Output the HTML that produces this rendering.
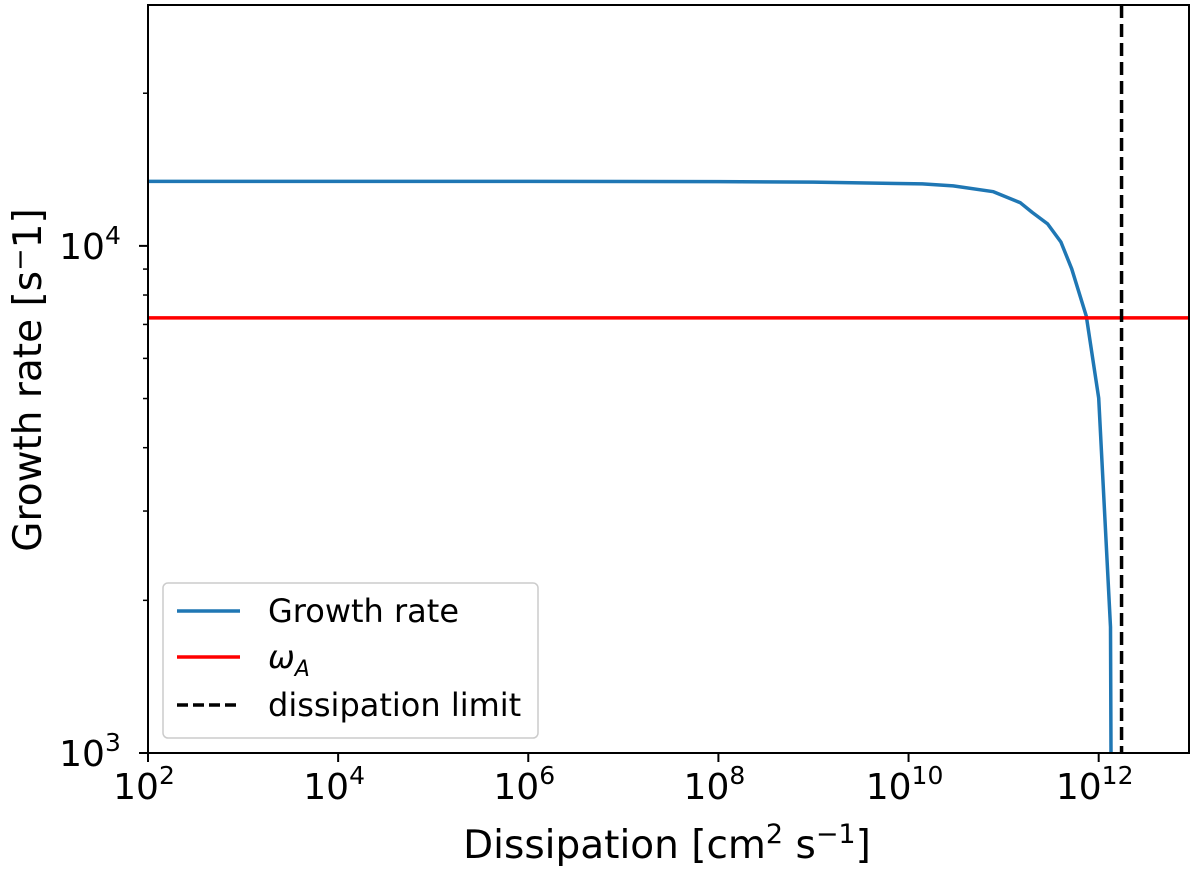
<!DOCTYPE html>
<html><head><meta charset="utf-8"><style>
body{margin:0;background:#fff;}
svg text{font-family:"DejaVu Sans","Liberation Sans",sans-serif;fill:#000;}
</style></head><body>
<svg id="chart" width="1200" height="873">
</svg>
<script>
const xDomainExp = [2, 12.95];
const yDomainExp = [3, 4.475];
const dissipation = [1e2, 1e6, 1e8, 1e9, 1.4e10, 2.95e10, 7.8e10, 1.5e11, 2.0e11, 2.9e11, 4.0e11, 5.2e11, 7.4e11, 1.0e12, 1.33e12, 1.35e12];
const growthRate = [13400, 13400, 13390, 13360, 13250, 13130, 12790, 12160, 11640, 11050, 10180, 9010, 7270, 5010, 1772, 900];
const omegaA = 7210;
const dissipationLimit = 1.74e12;
const xTickExps = [2, 4, 6, 8, 10, 12];
const yTickExps = [3, 4];

const L=148,R=1189,T=5,B=753;
function xs(v){return L+(Math.log10(v)-xDomainExp[0])/(xDomainExp[1]-xDomainExp[0])*(R-L);}
function ys(v){return B-(Math.log10(v)-yDomainExp[0])/(yDomainExp[1]-yDomainExp[0])*(B-T);}
const NS="http://www.w3.org/2000/svg";
const svg=document.getElementById('chart');
function el(tag,attrs,parent){const e=document.createElementNS(NS,tag);for(const k in attrs)e.setAttribute(k,attrs[k]);(parent||svg).appendChild(e);return e;}

const defs=el('defs',{});
const cp=el('clipPath',{id:'clip'},defs);
el('rect',{x:L,y:T,width:R-L,height:B-T},cp);
const g=el('g',{'clip-path':'url(#clip)'});



const pts=dissipation.map((d,i)=>xs(d).toFixed(1)+','+ys(growthRate[i]).toFixed(1)).join(' ');
const gl=el('polyline',{points:pts,fill:'none',stroke:'#1f77b4','stroke-width':3.5,'stroke-linejoin':'round'},g);


const rl=el('line',{x1:L,x2:R,y1:ys(omegaA),y2:ys(omegaA),stroke:'#ff0000','stroke-width':3.5},g);


const dl=el('line',{x1:xs(dissipationLimit),x2:xs(dissipationLimit),y1:T,y2:B,stroke:'#000','stroke-width':3.5,'stroke-dasharray':'13,6'},g);



const fr=el('rect',{x:L,y:T,width:R-L,height:B-T,fill:'none',stroke:'#000','stroke-width':2});



xTickExps.forEach(e=>{
  const x=xs(Math.pow(10,e));
  el('line',{x1:x,x2:x,y1:B,y2:B+9,stroke:'#000','stroke-width':2});
  const t=el('text',{x:x-4,y:B+46,'text-anchor':'middle','font-size':36});
  
  
  t.innerHTML='10<tspan dy="-15" font-size="25">'+e+'</tspan>';
});
yTickExps.forEach(e=>{
  const y=ys(Math.pow(10,e));
  el('line',{x1:L-9,x2:L,y1:y,y2:y,stroke:'#000','stroke-width':2});
  const t=el('text',{x:L-58,y:y+13,'text-anchor':'middle','font-size':36});
  
  
  t.innerHTML='10<tspan dy="-15" font-size="25">'+e+'</tspan>';
});
for(let d=3;d<5;d++){for(let m=2;m<=9;m++){const v=m*Math.pow(10,d);if(Math.log10(v)>yDomainExp[1])continue;const y=ys(v);el('line',{x1:L-5,x2:L,y1:y,y2:y,stroke:'#000','stroke-width':1.5});}}

const xl=el('text',{x:667,y:858,'text-anchor':'middle','font-size':39});


xl.innerHTML='Dissipation [cm<tspan dy="-15" font-size="27">2</tspan><tspan dy="15"> s</tspan><tspan dy="-15" font-size="27">−1</tspan><tspan dy="15">]</tspan>';
const yl=el('text',{x:0,y:0,'text-anchor':'middle','font-size':39,transform:'translate(41,380) rotate(-90)'});


yl.innerHTML='Growth rate [s<tspan dy="-12" font-size="27">−</tspan><tspan dy="12">1]</tspan>';

const lg=el('g',{});


el('rect',{x:163,y:583,width:375,height:155,rx:5,fill:'#fff',stroke:'#ccc','stroke-width':1.5},lg);
const entries=[['Growth rate','#1f77b4',null,611],['ω','#ff0000',null,657],['dissipation limit','#000','11,5',705]];
entries.forEach((en,i)=>{
  const ln=el('line',{x1:177,x2:240,y1:en[3],y2:en[3],stroke:en[1],'stroke-width':3.5},lg);
  if(en[2])ln.setAttribute('stroke-dasharray',en[2]);
  const t=el('text',{x:268,y:en[3]+11,'font-size':32},lg);
  
  
  if(i===1)t.innerHTML='<tspan font-style="italic">ω</tspan><tspan dy="8" font-size="22" font-style="italic">A</tspan>';
  else t.textContent=en[0];
});
</script>
</body></html>
